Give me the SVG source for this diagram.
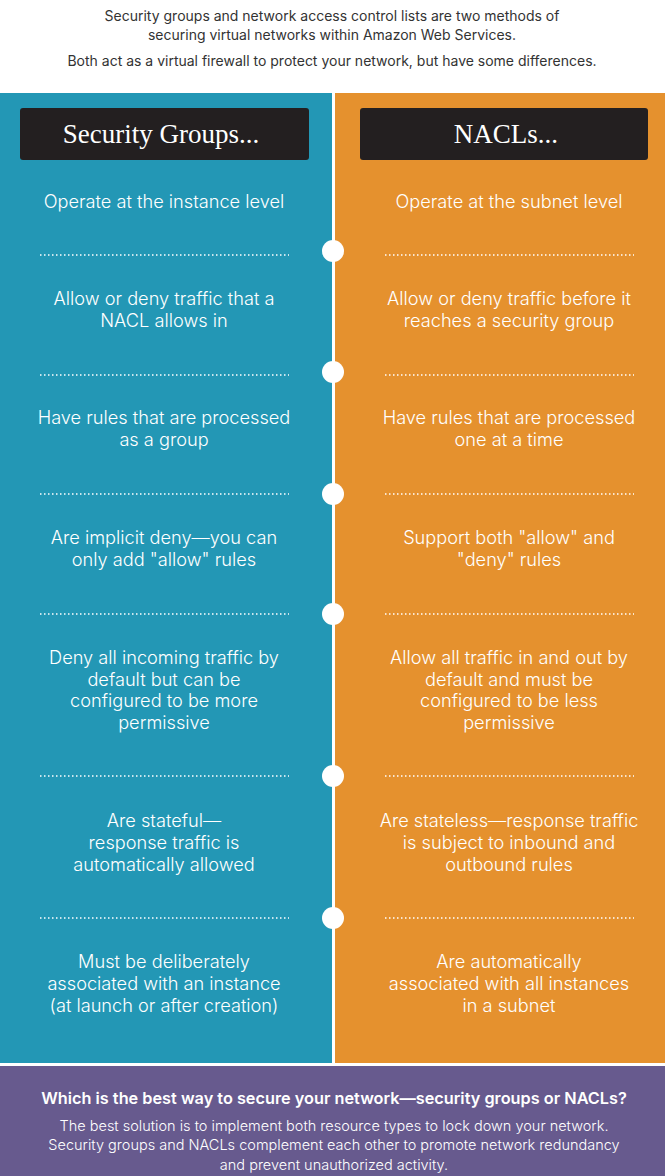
<svg xmlns="http://www.w3.org/2000/svg" width="665" height="1176" viewBox="0 0 665 1176">
<style>
.intro{font-family:Inter,"Liberation Sans",sans-serif;font-size:14px;fill:#333;text-anchor:middle}
.hd{font-family:"Liberation Serif",serif;font-size:27px;fill:#fff;text-anchor:middle}
.t{font-family:Inter,"Liberation Sans",sans-serif;font-weight:300;font-size:18.2px;fill:#fff;text-anchor:middle}
.tb{font-family:Inter,"Liberation Sans",sans-serif;font-weight:600;font-size:16.3px;fill:#fff;text-anchor:middle}
.tf{font-family:Inter,"Liberation Sans",sans-serif;font-weight:300;font-size:14.5px;fill:#fff;text-anchor:middle}
.dot{stroke:#fff;stroke-width:1.5;stroke-dasharray:1.5 2.5;fill:none}
.c{fill:#fff}
</style>
<rect x="0" y="0" width="665" height="1176" fill="#fff"/>
<g id="intro">
<text class="intro" x="332" y="21">Security groups and network access control lists are two methods of</text>
<text class="intro" x="332" y="40">securing virtual networks within Amazon Web Services.</text>
<text class="intro" x="332" y="66">Both act as a virtual firewall to protect your network, but have some differences.</text>
</g>
<rect x="0" y="93" width="332" height="970" fill="#2397b5"/>
<rect x="335" y="93" width="330" height="970" fill="#e5912e"/>
<rect x="0" y="1066" width="665" height="110" fill="#675a8e"/>
<g id="head-sg"><rect x="20" y="108" width="289" height="52" rx="3" fill="#231f20"/><text class="hd" x="161" y="143">Security Groups...</text></g>
<g id="head-nacl"><rect x="360" y="108" width="288" height="52" rx="3" fill="#231f20"/><text class="hd" x="506" y="143">NACLs...</text></g>
<g id="connectors">
<line class="dot" x1="40" y1="255" x2="289" y2="255"/><line class="dot" x1="385" y1="255" x2="634" y2="255"/>
<line class="dot" x1="40" y1="375" x2="289" y2="375"/><line class="dot" x1="385" y1="375" x2="634" y2="375"/>
<line class="dot" x1="40" y1="494" x2="289" y2="494"/><line class="dot" x1="385" y1="494" x2="634" y2="494"/>
<line class="dot" x1="40" y1="614" x2="289" y2="614"/><line class="dot" x1="385" y1="614" x2="634" y2="614"/>
<line class="dot" x1="40" y1="776" x2="289" y2="776"/><line class="dot" x1="385" y1="776" x2="634" y2="776"/>
<line class="dot" x1="40" y1="918" x2="289" y2="918"/><line class="dot" x1="385" y1="918" x2="634" y2="918"/>
<circle class="c" cx="333" cy="251" r="11"/>
<circle class="c" cx="333" cy="372" r="11"/>
<circle class="c" cx="333" cy="494" r="11"/>
<circle class="c" cx="333" cy="614" r="11"/>
<circle class="c" cx="333" cy="776" r="11"/>
<circle class="c" cx="333" cy="918" r="11"/>
</g>
<g id="sg1"><text class="t" x="164" y="208">Operate at the instance level</text></g>
<g id="nacl1"><text class="t" x="509" y="208">Operate at the subnet level</text></g>
<g id="sg2"><text class="t" x="164" y="305">Allow or deny traffic that a</text><text class="t" x="164" y="327">NACL allows in</text></g>
<g id="nacl2"><text class="t" x="509" y="305">Allow or deny traffic before it</text><text class="t" x="509" y="327">reaches a security group</text></g>
<g id="sg3"><text class="t" x="164" y="424">Have rules that are processed</text><text class="t" x="164" y="446">as a group</text></g>
<g id="nacl3"><text class="t" x="509" y="424">Have rules that are processed</text><text class="t" x="509" y="446">one at a time</text></g>
<g id="sg4"><text class="t" x="164" y="544">Are implicit deny—you can</text><text class="t" x="164" y="566">only add "allow" rules</text></g>
<g id="nacl4"><text class="t" x="509" y="544">Support both "allow" and</text><text class="t" x="509" y="566">"deny" rules</text></g>
<g id="sg5"><text class="t" x="164" y="664">Deny all incoming traffic by</text><text class="t" x="164" y="686">default but can be</text><text class="t" x="164" y="707">configured to be more</text><text class="t" x="164" y="729">permissive</text></g>
<g id="nacl5"><text class="t" x="509" y="664">Allow all traffic in and out by</text><text class="t" x="509" y="686">default and must be</text><text class="t" x="509" y="707">configured to be less</text><text class="t" x="509" y="729">permissive</text></g>
<g id="sg6"><text class="t" x="164" y="827">Are stateful—</text><text class="t" x="164" y="849">response traffic is</text><text class="t" x="164" y="871">automatically allowed</text></g>
<g id="nacl6"><text class="t" x="509" y="827">Are stateless—response traffic</text><text class="t" x="509" y="849">is subject to inbound and</text><text class="t" x="509" y="871">outbound rules</text></g>
<g id="sg7"><text class="t" x="164" y="968">Must be deliberately</text><text class="t" x="164" y="990">associated with an instance</text><text class="t" x="164" y="1012">(at launch or after creation)</text></g>
<g id="nacl7"><text class="t" x="509" y="968">Are automatically</text><text class="t" x="509" y="990">associated with all instances</text><text class="t" x="509" y="1012">in a subnet</text></g>
<g id="footer">
<text class="tb" x="334" y="1104">Which is the best way to secure your network—security groups or NACLs?</text>
<text class="tf" x="334" y="1131">The best solution is to implement both resource types to lock down your network.</text>
<text class="tf" x="334" y="1150">Security groups and NACLs complement each other to promote network redundancy</text>
<text class="tf" x="334" y="1170">and prevent unauthorized activity.</text>
</g>
</svg>
